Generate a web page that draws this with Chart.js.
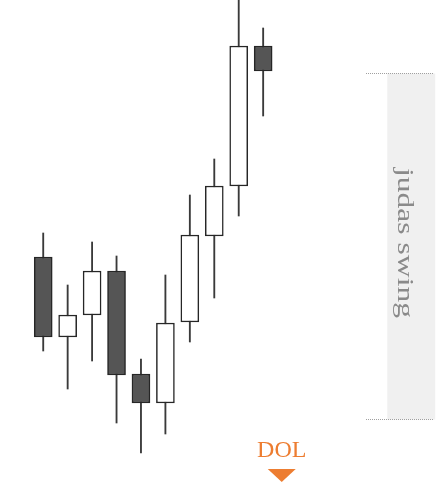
<!DOCTYPE html>
<html>
<head>
<meta charset="utf-8">
<script src="https://cdn.jsdelivr.net/npm/chart.js@4.4.1/dist/chart.umd.min.js"></script>
<style>
  html, body { margin: 0; padding: 0; background: #fff; }
  #wrap { width: 439px; height: 485px; }
</style>
</head>
<body>
<div id="wrap"><canvas id="myChart"></canvas></div>
<script>
// candles, left to right (price units are arbitrary)
const candles = ['c1', 'c2', 'c3', 'c4', 'c5', 'c6', 'c7', 'c8', 'c9', 'c10'];
const opens  = [228, 148, 170, 214, 111,  82, 163, 249, 299, 439];
const highs  = [252, 200, 243, 229, 126, 210, 290, 326, 485, 457];
const lows   = [134,  96, 124,  62,  32,  51, 143, 187, 269, 369];
const closes = [148, 170, 214, 110,  82, 162, 250, 299, 439, 414];
// empty slots to the right of the last candle
const emptySlots = ['', '', '', '', '', ''];

const swingTop = 412;
const swingBottom = 66;

document.addEventListener('DOMContentLoaded', function() {
  const ctx = document.getElementById('myChart').getContext('2d');

  const labels = candles.concat(emptySlots);
  const bodies = candles.map((c, i) => [opens[i], closes[i]]);
  const wicks = candles.map((c, i) => [lows[i], highs[i]]);
  const bodyFill = candles.map((c, i) => closes[i] < opens[i] ? '#555555' : '#ffffff');

  const annotations = {
    id: 'annotations',
    beforeDatasetsDraw(chart) {
      const c = chart.ctx;
      const x = chart.scales.x, y = chart.scales.y;
      const top = Math.round(y.getPixelForValue(swingTop)) + 0.5;
      const bottom = Math.round(y.getPixelForValue(swingBottom)) + 0.5;
      c.save();
      // shaded band
      c.fillStyle = '#f0f0f0';
      const bx0 = x.getPixelForValue(14.08);
      const bx1 = x.getPixelForValue(16.04);
      c.fillRect(bx0, top, bx1 - bx0, bottom - top);
      // dotted limits
      c.strokeStyle = '#a0a0a0';
      c.lineWidth = 1;
      c.setLineDash([1, 1]);
      const lx0 = Math.round(x.getPixelForValue(13.2));
      const lx1 = Math.round(x.getPixelForValue(15.96));
      c.beginPath();
      c.moveTo(lx0, top); c.lineTo(lx1, top);
      c.moveTo(lx0, bottom); c.lineTo(lx1, bottom);
      c.stroke();
      c.restore();
    },
    afterDraw(chart) {
      const c = chart.ctx;
      const x = chart.scales.x, y = chart.scales.y;
      c.save();
      // vertical label
      const tx = x.getPixelForValue(14.77);
      const ty = (y.getPixelForValue(swingTop) + y.getPixelForValue(swingBottom)) / 2 - 3;
      c.translate(tx, ty);
      c.rotate(Math.PI / 2);
      c.font = '24px "Times New Roman", "Liberation Serif", serif';
      const w = c.measureText('judas swing').width;
      c.scale(150 / w, 1);
      c.fillStyle = '#8a8a8a';
      c.textAlign = 'center';
      c.textBaseline = 'middle';
      c.fillText('judas swing', 0, 0);
      c.restore();

      // DOL marker
      c.save();
      const dx = x.getPixelForValue(9.76);
      c.fillStyle = '#ed7d31';
      c.font = '24px "Times New Roman", "Liberation Serif", serif';
      c.textAlign = 'center';
      c.textBaseline = 'alphabetic';
      c.fillText('DOL', dx, 457);
      c.beginPath();
      c.moveTo(dx - 14, 469);
      c.lineTo(dx + 14, 469);
      c.lineTo(dx, 482);
      c.closePath();
      c.fill();
      c.restore();
    }
  };

  new Chart(ctx, {
    type: 'bar',
    data: {
      labels: labels,
      datasets: [
        {
          label: 'body',
          data: bodies,
          backgroundColor: bodyFill,
          borderColor: '#262626',
          borderWidth: 1.5,
          borderSkipped: false,
          barThickness: 18,
          grouped: false,
          order: 0
        },
        {
          label: 'wick',
          data: wicks,
          backgroundColor: '#3a3a3a',
          borderWidth: 0,
          barThickness: 1.2,
          grouped: false,
          order: 1
        }
      ]
    },
    options: {
      responsive: true,
      maintainAspectRatio: false,
      animation: false,
      layout: { padding: { left: 31, right: 17, top: 0, bottom: 0 } },
      scales: {
        x: { display: false, offset: true },
        y: { display: false, min: 0, max: 485 }
      },
      plugins: {
        legend: { display: false },
        tooltip: { enabled: false }
      }
    },
    plugins: [annotations]
  });
});
</script>
</body>
</html>
